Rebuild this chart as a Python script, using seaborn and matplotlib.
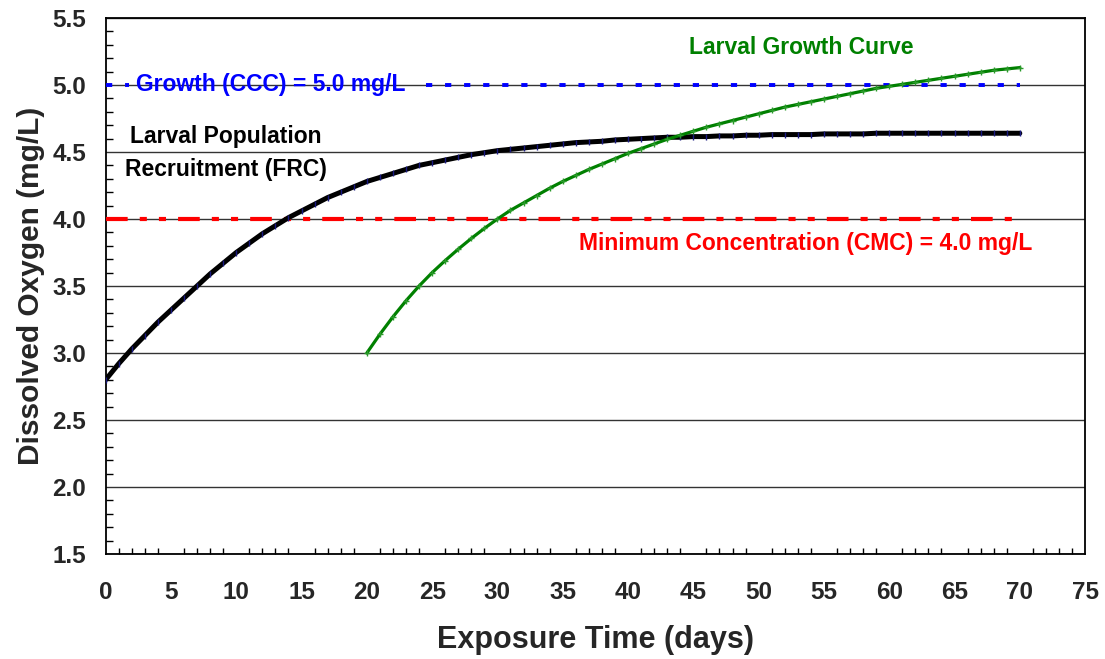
import numpy as np
import pandas as pd
import matplotlib
matplotlib.use("Agg")
import matplotlib.pyplot as plt
from matplotlib.ticker import MultipleLocator
import seaborn as sns

# Larval population recruitment (FRC), daily values, days 0-70
frc_days = list(range(0, 71))
frc_do = [2.80, 2.92, 3.03, 3.13, 3.23, 3.32, 3.41, 3.50, 3.59, 3.67,
          3.75, 3.82, 3.89, 3.95, 4.01, 4.06, 4.11, 4.16, 4.20, 4.24,
          4.28, 4.31, 4.34, 4.37, 4.40, 4.42, 4.44, 4.46, 4.48, 4.495,
          4.51, 4.52, 4.53, 4.54, 4.55, 4.56, 4.57, 4.575, 4.58, 4.59,
          4.595, 4.60, 4.605, 4.61, 4.61, 4.615, 4.615, 4.62, 4.62, 4.625,
          4.625, 4.63, 4.63, 4.63, 4.63, 4.635, 4.635, 4.635, 4.635, 4.64,
          4.64, 4.64, 4.64, 4.64, 4.64, 4.64, 4.64, 4.64, 4.64, 4.64, 4.64]

# Larval growth curve, daily values, days 20-70
growth_days = list(range(20, 71))
growth_do = [3.00, 3.14, 3.27, 3.39, 3.50, 3.60, 3.69, 3.775, 3.855, 3.93,
             4.00, 4.065, 4.12, 4.175, 4.23, 4.28, 4.325, 4.37, 4.41, 4.45,
             4.49, 4.525, 4.56, 4.595, 4.625, 4.655, 4.685, 4.71, 4.735, 4.76,
             4.785, 4.81, 4.835, 4.855, 4.875, 4.895, 4.915, 4.935, 4.955, 4.975,
             4.99, 5.005, 5.02, 5.035, 5.05, 5.065, 5.08, 5.095, 5.11, 5.12, 5.13]

# Criteria levels (mg/L)
ccc_level = 5.0
cmc_level = 4.0
ccc_spans = [(0.0, 1.8), (24.5, 70.0)]   # broken around its label
cmc_span = (0.0, 70.0)

x_ticks = list(range(0, 80, 5))
y_ticks = [1.5, 2.0, 2.5, 3.0, 3.5, 4.0, 4.5, 5.0, 5.5]

sns.set_theme(style="white")
plt.rcParams["font.family"] = ["Liberation Sans", "DejaVu Sans"]
plt.rcParams["font.weight"] = "bold"

fig = plt.figure(figsize=(11.05, 6.59), dpi=100)
ax = fig.add_axes([0.0956, 0.1593, 0.8864, 0.8134])

frc = pd.DataFrame({"day": frc_days, "do": frc_do})
grw = pd.DataFrame({"day": growth_days, "do": growth_do})

# horizontal gridlines
for yv in y_ticks:
    ax.axhline(yv, color="#333333", lw=1.0, zorder=1)

# criteria lines
for a, b in ccc_spans:
    ax.plot([a, b], [ccc_level, ccc_level], color="#0000ff", lw=2.8,
            dashes=(1.6, 3.3), zorder=3)
ax.plot(list(cmc_span), [cmc_level, cmc_level], color="#ff0000", lw=3.0,
        dashes=(5.2, 2.9, 1.7, 2.9, 1.7, 2.9), zorder=3)

sns.lineplot(data=frc, x="day", y="do", ax=ax, color="black", lw=3.6,
             marker="|", markersize=4, markeredgecolor="#1a1a80",
             markeredgewidth=1.0, zorder=4)
sns.lineplot(data=grw, x="day", y="do", ax=ax, color="#008000", lw=2.3,
             marker="+", markersize=4, markeredgecolor="#2a9a2a",
             markeredgewidth=1.0, zorder=5)

ax.set_xlim(0, 75)
ax.set_ylim(1.5, 5.5)
ax.set_xticks(x_ticks)
ax.set_yticks(y_ticks)
ax.set_yticklabels([f"{v:.1f}" for v in y_ticks])
ax.xaxis.set_minor_locator(MultipleLocator(1))
ax.yaxis.set_minor_locator(MultipleLocator(0.1))

ax.tick_params(axis="x", which="major", direction="inout", length=11,
               width=1.2, color="black", labelsize=17.5, pad=14)
ax.tick_params(axis="x", which="minor", direction="in", length=4.5,
               width=1.0, color="black", bottom=True)
ax.tick_params(axis="y", which="major", direction="out", length=5,
               width=1.2, color="black", labelsize=17.5, pad=9)
ax.tick_params(axis="y", which="minor", direction="in", length=5,
               width=1.0, color="black", left=True)
for lab in ax.get_xticklabels() + ax.get_yticklabels():
    lab.set_fontweight("bold")

for s in ax.spines.values():
    s.set_color("black")
    s.set_linewidth(1.3)

ax.set_xlabel("Exposure Time (days)", fontsize=22, fontweight="bold", labelpad=15)
ax.set_ylabel("Dissolved Oxygen (mg/L)", fontsize=21.5, fontweight="bold", labelpad=5)

ax.text(2.35, ccc_level, "Growth (CCC) = 5.0 mg/L", color="#0000ff",
        fontsize=16.5, fontweight="bold", ha="left", va="center", zorder=6)
ax.text(44.7, 5.28, "Larval Growth Curve", color="#008000",
        fontsize=16.5, fontweight="bold", ha="left", va="center")
ax.text(9.2, 4.49, "Larval Population\nRecruitment (FRC)", color="black",
        fontsize=16.5, fontweight="bold", ha="center", va="center",
        linespacing=1.55)
ax.text(53.6, 3.82, "Minimum Concentration (CMC) = 4.0 mg/L", color="#ff0000",
        fontsize=16.5, fontweight="bold", ha="center", va="center")

ax.set_facecolor("white")
fig.savefig("out.png", dpi=100, facecolor="white")
